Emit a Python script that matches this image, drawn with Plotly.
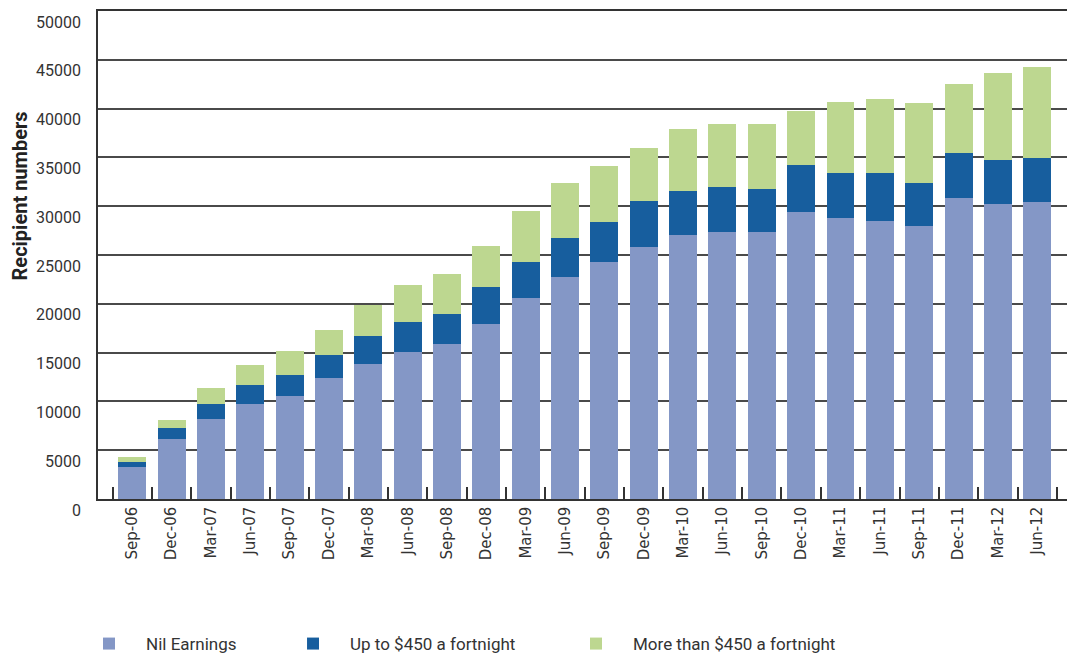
import plotly.graph_objects as go

# quarters
quarters = ['Sep-06', 'Dec-06', 'Mar-07', 'Jun-07', 'Sep-07', 'Dec-07', 'Mar-08', 'Jun-08',
            'Sep-08', 'Dec-08', 'Mar-09', 'Jun-09', 'Sep-09', 'Dec-09', 'Mar-10', 'Jun-10',
            'Sep-10', 'Dec-10', 'Mar-11', 'Jun-11', 'Sep-11', 'Dec-11', 'Mar-12', 'Jun-12']

# recipient numbers by earnings group
nil_earnings = [3310, 6120, 8160, 9730, 10550, 12360, 13800, 15090,
                15880, 17930, 20560, 22710, 24320, 25850, 27080, 27320,
                27320, 29410, 28760, 28480, 27970, 30810, 30190, 30460]
up_to_450 = [510, 1190, 1570, 1980, 2190, 2430, 2900, 3080,
             3040, 3760, 3720, 4070, 4060, 4700, 4480, 4620,
             4410, 4810, 4610, 4890, 4370, 4670, 4580, 4510]
more_than_450 = [450, 780, 1610, 2050, 2460, 2530, 3140, 3760,
                 4130, 4230, 5230, 5560, 5770, 5430, 6320, 6520,
                 6730, 5530, 7340, 7580, 8230, 7040, 8840, 9260]

y_ticks = [0, 5000, 10000, 15000, 20000, 25000, 30000, 35000, 40000, 45000, 50000]
y_labels = [str(v) for v in y_ticks]

fig = go.Figure()
fig.add_trace(go.Bar(x=quarters, y=nil_earnings, name='Nil Earnings',
                     marker=dict(color='#8497C6', line=dict(width=0)), legend='legend'))
fig.add_trace(go.Bar(x=quarters, y=up_to_450, name='Up to $450 a fortnight',
                     marker=dict(color='#175E9E', line=dict(width=0)), legend='legend2'))
fig.add_trace(go.Bar(x=quarters, y=more_than_450, name='More than $450 a fortnight',
                     marker=dict(color='#BDD790', line=dict(width=0)), legend='legend3'))

legend_font = dict(family='Roboto, DejaVu Sans', size=17, color='#333333')
leg = dict(xref='container', yref='container', y=0.02, yanchor='middle', xanchor='left',
           orientation='h', font=legend_font, itemwidth=64, bgcolor='rgba(0,0,0,0)')

# page body has an 8px margin, so the figure is 8px smaller than the window
fig.update_layout(
    barmode='stack',
    bargap=0.29,
    width=1067, height=649,
    margin=dict(l=90, r=0, t=3, b=158, autoexpand=False),
    paper_bgcolor='white', plot_bgcolor='white',
    font=dict(family='Roboto, DejaVu Sans', color='#333333'),
    showlegend=True,
    legend=dict(leg, x=0.060),
    legend2=dict(leg, x=0.2512),
    legend3=dict(leg, x=0.5164),
    xaxis=dict(
        type='category',
        range=[-0.87, 23.96],
        automargin=False,
        tickangle=-90,
        tickfont=dict(family='DejaVu Sans', size=15, color='#333333'),
        ticks='inside', tickson='boundaries', ticklen=12, tickcolor='#333333', tickwidth=1.5,
        showline=True, linecolor='#333333', linewidth=1.5, mirror=True,
        showgrid=False,
    ),
    yaxis=dict(
        range=[0, 50000],
        automargin=False,
        tickmode='array',
        tickvals=y_ticks,
        ticktext=y_labels,
        tickfont=dict(size=16, color='#333333'),
        ticklabelshift=11,
        ticklabelstandoff=12,
        showgrid=True, gridcolor='#4a4a4a', gridwidth=1.5,
        showline=True, linecolor='#333333', linewidth=1.5,
        zeroline=False,
    ),
    annotations=[dict(
        text='<b>Recipient numbers</b>', textangle=-90,
        xref='paper', yref='paper', x=-0.0798, y=0.62,
        xanchor='center', yanchor='middle', showarrow=False,
        font=dict(size=20, color='#222222'),
    )],
)

fig.write_html("out.html")
